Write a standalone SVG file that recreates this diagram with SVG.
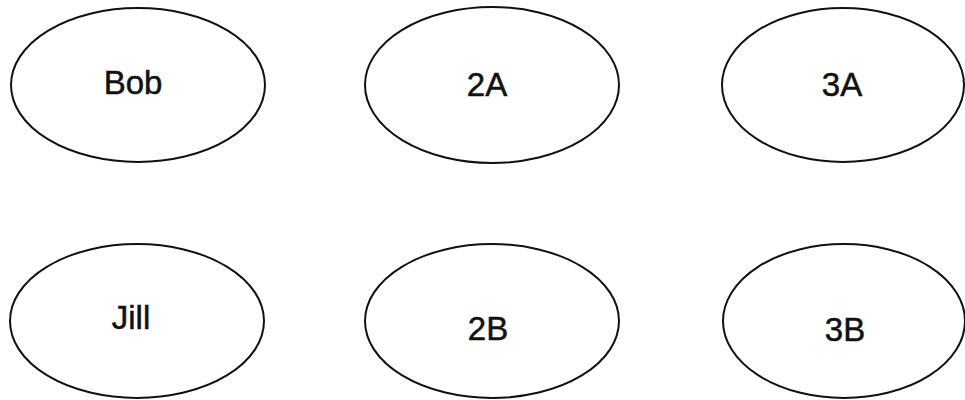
<svg xmlns="http://www.w3.org/2000/svg" width="965" height="400" viewBox="0 0 965 400">
<style>
.node ellipse{fill:#fff;stroke:#111;stroke-width:2}
.node text{font-family:"Liberation Sans",Arial,sans-serif;font-size:33px;fill:#111;stroke:#111;stroke-width:0.5;text-anchor:middle}
</style>
<rect width="965" height="400" fill="#fff"/>
<g id="connectors"></g>
<g id="bob" class="node"><ellipse cx="138" cy="85" rx="127" ry="77"/><text x="133" y="94">Bob</text></g>
<g id="n2a" class="node"><ellipse cx="492" cy="85" rx="127" ry="78"/><text x="487" y="96">2A</text></g>
<g id="n3a" class="node"><ellipse cx="843" cy="85" rx="121" ry="77"/><text x="842" y="96">3A</text></g>
<g id="jill" class="node"><ellipse cx="137" cy="321" rx="127" ry="77"/><text x="131" y="329">Jill</text></g>
<g id="n2b" class="node"><ellipse cx="492" cy="321" rx="127" ry="77"/><text x="488" y="340">2B</text></g>
<g id="n3b" class="node"><ellipse cx="844" cy="321" rx="121" ry="77"/><text x="845" y="341">3B</text></g>
</svg>
